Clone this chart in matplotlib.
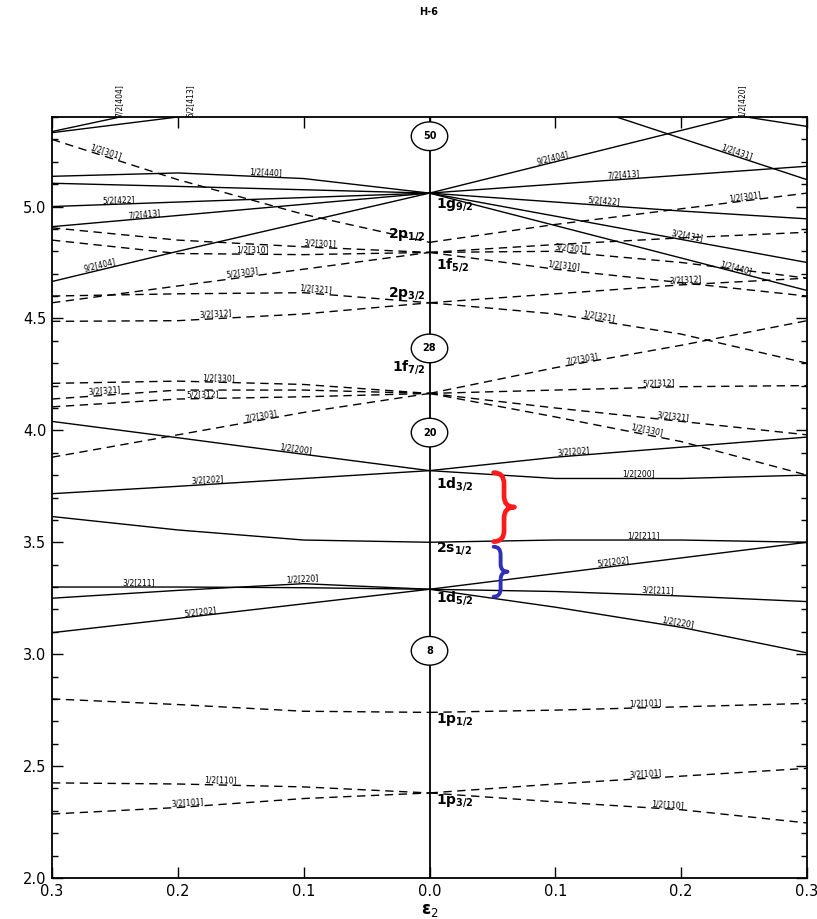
import numpy as np
import matplotlib
matplotlib.use("Agg")
import matplotlib.pyplot as plt
from matplotlib.patches import Ellipse, PathPatch
from matplotlib.path import Path
from matplotlib.ticker import MultipleLocator, FuncFormatter, NullLocator

plt.rcParams['font.family'] = ['DejaVu Sans']

# deformation grid (epsilon_2): oblate side and prolate side
XL = [-0.3, -0.2, -0.1, 0.0]
XR = [0.0, 0.1, 0.2, 0.3]

# ---- N = 1 (p shell), dashed ----
p_left = {
    "1/2[110]": [2.425, 2.42, 2.407, 2.38],
    "3/2[101]": [2.286, 2.315, 2.355, 2.38],
    "1/2[101]": [2.80, 2.775, 2.745, 2.74],
}
p_right = {
    "1/2[101]": [2.74, 2.75, 2.765, 2.78],
    "3/2[101]": [2.38, 2.42, 2.455, 2.49],
    "1/2[110]": [2.38, 2.34, 2.305, 2.246],
}

# ---- N = 2 (sd shell), solid ----
sd_left = {
    "1/2[200]": [4.04, 3.967, 3.893, 3.82],
    "3/2[202]": [3.717, 3.75, 3.785, 3.82],
    "1/2[211]": [3.615, 3.555, 3.51, 3.50],
    "3/2[211]": [3.30, 3.30, 3.297, 3.29],
    "1/2[220]": [3.25, 3.285, 3.315, 3.29],
    "5/2[202]": [3.096, 3.16, 3.225, 3.29],
}
sd_right = {
    "3/2[202]": [3.82, 3.88, 3.925, 3.97],
    "1/2[200]": [3.82, 3.785, 3.785, 3.80],
    "1/2[211]": [3.50, 3.51, 3.51, 3.50],
    "5/2[202]": [3.29, 3.36, 3.43, 3.50],
    "3/2[211]": [3.29, 3.28, 3.26, 3.235],
    "1/2[220]": [3.29, 3.21, 3.12, 3.006],
}

# ---- N = 3 (fp shell), dashed ----
fp_left = {
    "1/2[301]": [5.30, 5.12, 4.965, 4.84],
    "3/2[301]": [4.905, 4.85, 4.82, 4.795],
    "1/2[310]": [4.85, 4.79, 4.785, 4.795],
    "5/2[303]": [4.57, 4.645, 4.72, 4.795],
    "1/2[321]": [4.60, 4.61, 4.615, 4.57],
    "3/2[312]": [4.487, 4.49, 4.52, 4.57],
    "1/2[330]": [4.21, 4.22, 4.205, 4.165],
    "3/2[321]": [4.14, 4.18, 4.18, 4.165],
    "5/2[312]": [4.105, 4.14, 4.15, 4.165],
    "7/2[303]": [3.88, 3.98, 4.08, 4.165],
}
fp_right = {
    "1/2[301]": [4.84, 4.92, 4.99, 5.06],
    "5/2[303]": [4.795, 4.83, 4.86, 4.885],
    "3/2[301]": [4.795, 4.80, 4.75, 4.68],
    "1/2[310]": [4.795, 4.72, 4.66, 4.60],
    "3/2[312]": [4.57, 4.61, 4.65, 4.68],
    "1/2[321]": [4.57, 4.52, 4.43, 4.30],
    "7/2[303]": [4.165, 4.28, 4.38, 4.49],
    "5/2[312]": [4.165, 4.18, 4.195, 4.20],
    "3/2[321]": [4.165, 4.10, 4.04, 3.98],
    "1/2[330]": [4.165, 4.06, 3.95, 3.80],
}

# ---- N = 4 (g shell), solid ----
g_left = {
    "1/2[440]": [5.135, 5.15, 5.125, 5.06],
    "3/2[431]": [5.104, 5.09, 5.075, 5.06],
    "5/2[422]": [5.00, 5.02, 5.04, 5.06],
    "7/2[413]": [4.91, 4.96, 5.01, 5.06],
    "9/2[404]": [4.665, 4.80, 4.93, 5.06],
}
g_right = {
    "9/2[404]": [5.06, 5.20, 5.34, 5.48],
    "7/2[413]": [5.06, 5.10, 5.14, 5.18],
    "5/2[422]": [5.06, 5.02, 4.98, 4.945],
    "3/2[431]": [5.06, 4.957, 4.853, 4.75],
    "1/2[440]": [5.06, 4.915, 4.77, 4.625],
}

# N = 4 orbitals entering from above the frame
top_names = ["7/2[404]", "5/2[413]", "1/2[431]", "1/2[420]"]
top_x = [[-0.3, -0.2], [-0.3, -0.2, -0.1], [0.1, 0.2, 0.3], [0.2, 0.3]]
top_e = [[5.335, 5.455], [5.33, 5.40, 5.47], [5.49, 5.305, 5.12], [5.445, 5.358]]

# spherical levels at epsilon = 0
sph_names = ["1g_{9/2}", "2p_{1/2}", "1f_{5/2}", "2p_{3/2}", "1f_{7/2}",
             "1d_{3/2}", "2s_{1/2}", "1d_{5/2}", "1p_{1/2}", "1p_{3/2}"]
sph_label_e = [5.01, 4.875, 4.74, 4.61, 4.285, 3.76, 3.47, 3.25, 2.71, 2.345]
sph_label_side = ["r", "l", "r", "l", "l", "r", "r", "r", "r", "r"]

# magic numbers
magic_numbers = ["50", "28", "20", "8"]
magic_e = [5.314, 4.366, 3.99, 3.015]

# label positions along the lines (epsilon values)
lab_p_left = {"1/2[110]": -0.166, "3/2[101]": -0.192}
lab_p_right = {"1/2[101]": 0.172, "3/2[101]": 0.172, "1/2[110]": 0.189}
lab_sd_left = {"1/2[200]": -0.107, "3/2[202]": -0.176, "3/2[211]": -0.231,
               "1/2[220]": -0.101, "5/2[202]": -0.182}
lab_sd_right = {"3/2[202]": 0.115, "1/2[200]": 0.166, "1/2[211]": 0.17,
                "5/2[202]": 0.146, "3/2[211]": 0.181, "1/2[220]": 0.197}
lab_fp_left = {"1/2[301]": -0.258, "3/2[301]": -0.087, "1/2[310]": -0.141,
               "5/2[303]": -0.148, "1/2[321]": -0.091, "3/2[312]": -0.17,
               "1/2[330]": -0.168, "3/2[321]": -0.258, "5/2[312]": -0.18,
               "7/2[303]": -0.133}
lab_fp_right = {"1/2[301]": 0.251, "3/2[301]": 0.112, "1/2[310]": 0.106,
                "3/2[312]": 0.204, "1/2[321]": 0.134, "7/2[303]": 0.122,
                "5/2[312]": 0.182, "3/2[321]": 0.193, "1/2[330]": 0.172}
lab_g_left = {"1/2[440]": -0.13, "5/2[422]": -0.247, "7/2[413]": -0.226,
              "9/2[404]": -0.261}
lab_g_right = {"9/2[404]": 0.099, "7/2[413]": 0.154, "5/2[422]": 0.138,
               "3/2[431]": 0.204, "1/2[440]": 0.243}
lab_top = {"7/2[404]": -0.247, "5/2[413]": -0.19, "1/2[420]": 0.248}
lab_inner = {"1/2[431]": 0.243}

fig = plt.figure(figsize=(8.17, 9.19), dpi=100)
ax = fig.add_axes([52 / 817, 41 / 919, 755 / 817, 761 / 919])
ax.set_xlim(-0.3, 0.3)
ax.set_ylim(2.0, 5.4)

SOLID = dict(color="black", lw=1.0, ls="-", solid_capstyle="butt")
DASHED = dict(color="black", lw=1.0, ls=(0, (6, 4)))
LAB_FS = 5.5


def put_label(xs, es, xl, text):
    xs = np.asarray(xs, float)
    es = np.asarray(es, float)
    yl = np.interp(xl, xs, es)
    i = int(np.clip(np.searchsorted(xs, xl) - 1, 0, len(xs) - 2))
    ang = np.degrees(np.arctan2(es[i + 1] - es[i], xs[i + 1] - xs[i]))
    ax.text(xl, yl, text, fontsize=LAB_FS, rotation=ang,
            transform_rotates_text=True, rotation_mode="anchor",
            ha="center", va="bottom", zorder=5)


def draw_family(levels, xs, style, labels):
    for name, es in levels.items():
        ax.plot(xs, es, zorder=2, **style)
        if name in labels:
            put_label(xs, es, labels[name], name)


draw_family(p_left, XL, DASHED, lab_p_left)
draw_family(p_right, XR, DASHED, lab_p_right)
draw_family(sd_left, XL, SOLID, lab_sd_left)
draw_family(sd_right, XR, SOLID, lab_sd_right)
draw_family(fp_left, XL, DASHED, lab_fp_left)
draw_family(fp_right, XR, DASHED, lab_fp_right)
draw_family(g_left, XL, SOLID, lab_g_left)
draw_family(g_right, XR, SOLID, lab_g_right)

for name, xs, es in zip(top_names, top_x, top_e):
    ax.plot(xs, es, zorder=2, **SOLID)
    if name in lab_inner:
        put_label(xs, es, lab_inner[name], name)
    if name in lab_top:
        ax.text(lab_top[name], 1.0, name, fontsize=LAB_FS, rotation=90,
                ha="center", va="bottom",
                transform=ax.get_xaxis_transform())

# symmetry axis at zero deformation
ax.axvline(0.0, color="black", lw=1.3, zorder=3)

# magic-number markers
for txt, e in zip(magic_numbers, magic_e):
    ax.add_patch(Ellipse((0.0, e), 0.029, 0.128, facecolor="white",
                         edgecolor="black", lw=1.0, zorder=4))
    ax.text(0.0, e, txt, fontsize=7, fontweight="bold", ha="center",
            va="center", zorder=5)

# spherical-shell labels
for name, e, side in zip(sph_names, sph_label_e, sph_label_side):
    s = r"$\mathbf{" + name + "}$"
    if side == "r":
        ax.text(0.005, e, s, fontsize=10, ha="left", va="center", zorder=5)
    else:
        ax.text(-0.003, e, s, fontsize=10, ha="right", va="center", zorder=5)


def curly_brace(x0, x1, y0, y1, color, lw):
    xm = 0.5 * (x0 + x1)
    ym = 0.5 * (y0 + y1)
    c = 0.16 * (y1 - y0)
    verts = [(x0, y1), (xm, y1), (xm, y1 - c),
             (xm, ym + c),
             (xm, ym), (x1, ym),
             (xm, ym), (xm, ym - c),
             (xm, y0 + c),
             (xm, y0), (x0, y0)]
    codes = [Path.MOVETO, Path.CURVE3, Path.CURVE3,
             Path.LINETO,
             Path.CURVE3, Path.CURVE3,
             Path.CURVE3, Path.CURVE3,
             Path.LINETO,
             Path.CURVE3, Path.CURVE3]
    ax.add_patch(PathPatch(Path(verts, codes), fill=False, edgecolor=color,
                           lw=lw, capstyle="round", joinstyle="round",
                           zorder=6))


curly_brace(0.051, 0.0675, 3.503, 3.811, "#ff1a1a", 3.4)
curly_brace(0.051, 0.062, 3.257, 3.48, "#2f2fb8", 2.8)

# axes, ticks
ax.xaxis.set_major_locator(MultipleLocator(0.1))
ax.xaxis.set_minor_locator(NullLocator())
ax.xaxis.set_major_formatter(FuncFormatter(lambda v, p: f"{abs(v):.1f}"))
ax.yaxis.set_major_locator(MultipleLocator(0.5))
ax.yaxis.set_minor_locator(MultipleLocator(0.1))
ax.yaxis.set_major_formatter(FuncFormatter(lambda v, p: f"{v:.1f}"))
ax.tick_params(which="both", direction="in", top=True, right=True,
               width=1.0, labelsize=10.5)
ax.tick_params(which="major", length=8, pad=4)
ax.tick_params(which="minor", length=4)
for sp in ax.spines.values():
    sp.set_linewidth(1.3)

ax.set_xlabel(r"ε$_2$", fontsize=12, fontweight="bold", labelpad=2)
fig.text(429 / 817, 1 - 12 / 919, "H-6", fontsize=7, fontweight="bold",
         ha="center", va="center")

fig.savefig("out.png", dpi=100)
